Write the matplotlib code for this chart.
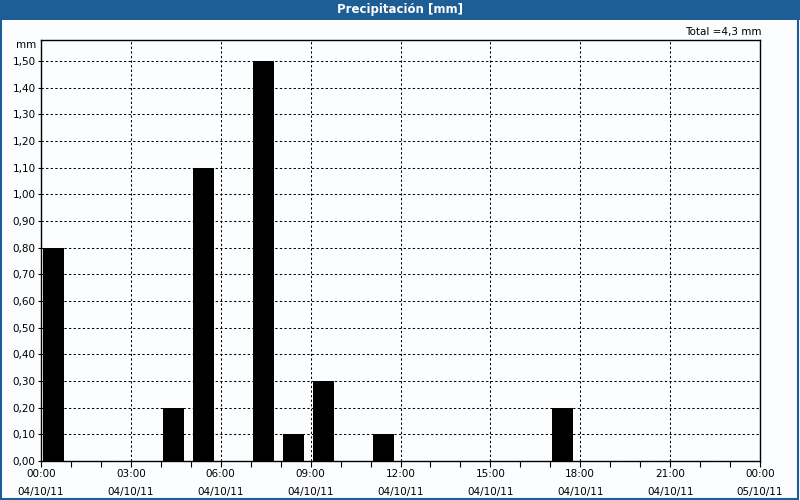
import matplotlib
matplotlib.use("Agg")
import matplotlib.pyplot as plt
from matplotlib.patches import Rectangle
from matplotlib.ticker import MultipleLocator, FixedLocator, FuncFormatter

# Data
hours = [0, 4, 5, 7, 8, 9, 11, 17]
precip = [0.8, 0.2, 1.1, 1.5, 0.1, 0.3, 0.1, 0.2]
tick_hours = [0, 3, 6, 9, 12, 15, 18, 21, 24]
tick_times = ["00:00", "03:00", "06:00", "09:00", "12:00", "15:00", "18:00", "21:00", "00:00"]
tick_dates = ["04/10/11"] * 8 + ["05/10/11"]
title = "Precipitación [mm]"
total_text = "Total =4,3 mm"

plt.rcParams['font.family'] = ['DejaVu Sans']
fig = plt.figure(figsize=(8, 5), dpi=100)
fig.patch.set_facecolor('#fcfdfe')

blue = '#1d5e96'
# title bar and frame
fig.patches.append(Rectangle((0, 1 - 20/500), 1, 20/500, transform=fig.transFigure,
                             facecolor=blue, edgecolor='none', zorder=0))
fig.patches.append(Rectangle((1/800, 1/500), 797/800, 497/500, transform=fig.transFigure,
                             facecolor='none', edgecolor=blue, linewidth=1.5, zorder=0))
fig.text(0.5, 1 - 10/500, title, color='white', fontsize=8.5, fontweight='bold',
         ha='center', va='center')

ax = fig.add_axes([41/800, 1 - 461/500, (760 - 41)/800, (461 - 40)/500])
ax.set_facecolor('#fcfdfe')
ax.bar([h + 0.07 for h in hours], precip, width=0.7, align='edge', color='black', zorder=3)

ax.set_xlim(0, 24)
ax.set_ylim(0, 1.579)
ax.yaxis.set_major_locator(FixedLocator([i / 10 for i in range(16)]))
ax.yaxis.set_major_formatter(FuncFormatter(lambda v, p: f"{v:.2f}".replace('.', ',')))
ax.xaxis.set_major_locator(FixedLocator(tick_hours))
ax.set_xticklabels([f"{t}\n{d}" for t, d in zip(tick_times, tick_dates)], linespacing=1.9)
ax.xaxis.set_minor_locator(MultipleLocator(1))
ax.tick_params(axis='x', which='both', length=4, width=0.8, direction='out', labelsize=7.5, pad=2)
ax.tick_params(axis='y', length=2, width=0.8, labelsize=7.5, pad=2)
ax.grid(True, which='major', color='black', linestyle=(0, (2.2, 2.2)), linewidth=0.75, zorder=1)
for s in ax.spines.values():
    s.set_linewidth(1.0)
    s.set_color('black')

fig.text(36/800, 1 - 45/500, "mm", fontsize=7.5, ha='right', va='center')
fig.text(762/800, 1 - 32/500, total_text, fontsize=7.5, ha='right', va='center')

fig.savefig("out.png", dpi=100, facecolor=fig.get_facecolor())
